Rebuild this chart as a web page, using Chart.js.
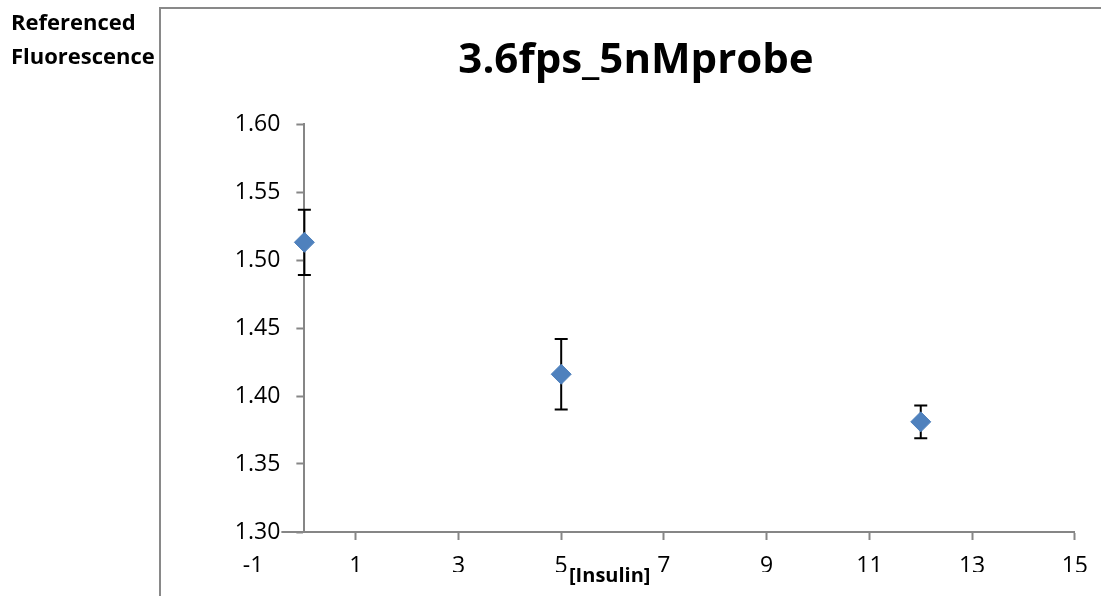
<!DOCTYPE html>
<html>
<head>
<meta charset="utf-8">
<script src="https://cdn.jsdelivr.net/npm/chart.js@4.4.1/dist/chart.umd.min.js"></script>
<style>
  html, body { margin: 0; padding: 0; background: #fff; overflow: hidden; }
  #wrap { width: 1101px; height: 596px; position: relative; }
  canvas { display: block; }
</style>
</head>
<body>
<div id="wrap"><canvas id="chart" width="1101" height="596"></canvas></div>
<script>
// Measurements: insulin concentration vs. referenced fluorescence (mean ± error)
const insulin = [0, 5, 12];
const fluorescence = [1.513, 1.416, 1.381];
const fluorescenceErr = [0.024, 0.026, 0.012];

// Axis ticks
const xTickValues = [-1, 1, 3, 5, 7, 9, 11, 13, 15];
const yTickValues = [1.30, 1.35, 1.40, 1.45, 1.50, 1.55, 1.60];

// Text
const chartTitle = '3.6fps_5nMprobe';
const yTitleLines = ['Referenced', 'Fluorescence'];
const xTitle = '[Insulin]';

const FONT = '"Open Sans", "Liberation Sans", sans-serif';
const AXIS_GREY = '#868686';
const Y_AXIS_WIDTH = 110;

// The value axis crosses the horizontal axis at x = 0
const yAxisAtZero = {
  id: 'yAxisAtZero',
  afterLayout(chart) {
    const { x, y } = chart.scales;
    const px = x.getPixelForValue(0);
    y.right = px;
    y.left = px - y.width;
  }
};

// Vertical error bars with caps, drawn under the markers
const errorBars = {
  id: 'errorBars',
  beforeDatasetsDraw(chart) {
    const { ctx, scales: { x, y } } = chart;
    ctx.save();
    ctx.strokeStyle = '#000';
    ctx.lineWidth = 2;
    insulin.forEach((xv, i) => {
      const px = x.getPixelForValue(xv);
      const top = y.getPixelForValue(fluorescence[i] + fluorescenceErr[i]);
      const bot = y.getPixelForValue(fluorescence[i] - fluorescenceErr[i]);
      ctx.beginPath();
      ctx.moveTo(px, top); ctx.lineTo(px, bot);
      ctx.moveTo(px - 6.5, top); ctx.lineTo(px + 6.5, top);
      ctx.moveTo(px - 6.5, bot); ctx.lineTo(px + 6.5, bot);
      ctx.stroke();
    });
    ctx.restore();
  }
};

// Frame, chart title and axis titles
const decorations = {
  id: 'decorations',
  beforeDraw(chart) {
    const { ctx, width, height } = chart;
    ctx.save();
    ctx.fillStyle = '#fff';
    ctx.fillRect(0, 0, width, height);
    ctx.strokeStyle = '#898989';
    ctx.lineWidth = 2;
    ctx.beginPath();
    ctx.moveTo(160, height + 2);
    ctx.lineTo(160, 8);
    ctx.lineTo(width + 2, 8);
    ctx.stroke();
    ctx.restore();
  },
  afterDraw(chart) {
    const { ctx } = chart;
    ctx.save();
    ctx.fillStyle = '#000';
    ctx.textBaseline = 'alphabetic';

    ctx.font = 'bold 42px ' + FONT;
    ctx.textAlign = 'center';
    ctx.fillText(chartTitle, 636, 73);

    ctx.font = 'bold 22px ' + FONT;
    ctx.textAlign = 'left';
    ctx.fillText(yTitleLines[0], 11, 30);
    ctx.fillText(yTitleLines[1], 11, 64);

    ctx.font = 'bold 20px ' + FONT;
    ctx.fillText(xTitle, 569, 582);
    ctx.restore();
  }
};

const tickFont = { family: FONT, size: 23 };

new Chart(document.getElementById('chart'), {
  type: 'scatter',
  data: {
    datasets: [{
      data: insulin.map((xv, i) => ({ x: xv, y: fluorescence[i] })),
      pointStyle: 'rectRot',
      pointRadius: 10,
      pointHoverRadius: 10,
      backgroundColor: '#4F81BD',
      borderColor: '#4F81BD',
      borderWidth: 1,
      showLine: false,
      clip: false
    }]
  },
  options: {
    responsive: false,
    devicePixelRatio: 1,
    animation: false,
    events: [],
    layout: { padding: { top: 124, left: 253 - Y_AXIS_WIDTH, right: 26, bottom: 24 } },
    plugins: {
      legend: { display: false },
      title: { display: false },
      tooltip: { enabled: false }
    },
    scales: {
      x: {
        type: 'linear',
        position: 'bottom',
        min: -1,
        max: 15,
        afterBuildTicks: (s) => { s.ticks = xTickValues.map(v => ({ value: v })); },
        afterFit: (s) => { s.height = 40; },
        ticks: {
          font: tickFont,
          color: '#000',
          padding: 13,
          maxRotation: 0,
          autoSkip: false,
          callback: (v) => String(v)
        },
        grid: {
          drawOnChartArea: false,
          drawTicks: true,
          tickLength: 8,
          tickColor: AXIS_GREY,
          tickWidth: 2
        },
        border: { color: AXIS_GREY, width: 2 }
      },
      y: {
        type: 'linear',
        position: 'left',
        min: 1.3,
        max: 1.6,
        afterBuildTicks: (s) => { s.ticks = yTickValues.map(v => ({ value: v })); },
        afterFit: (s) => { s.width = Y_AXIS_WIDTH; },
        ticks: {
          font: tickFont,
          color: '#000',
          padding: 16,
          autoSkip: false,
          showLabelBackdrop: true,
          backdropColor: '#fff',
          backdropPadding: 1,
          callback: (v) => Number(v).toFixed(2)
        },
        grid: {
          drawOnChartArea: false,
          drawTicks: true,
          tickLength: 8,
          tickColor: AXIS_GREY,
          tickWidth: 2
        },
        border: { color: AXIS_GREY, width: 2 }
      }
    }
  },
  plugins: [yAxisAtZero, decorations, errorBars]
});
</script>
</body>
</html>
